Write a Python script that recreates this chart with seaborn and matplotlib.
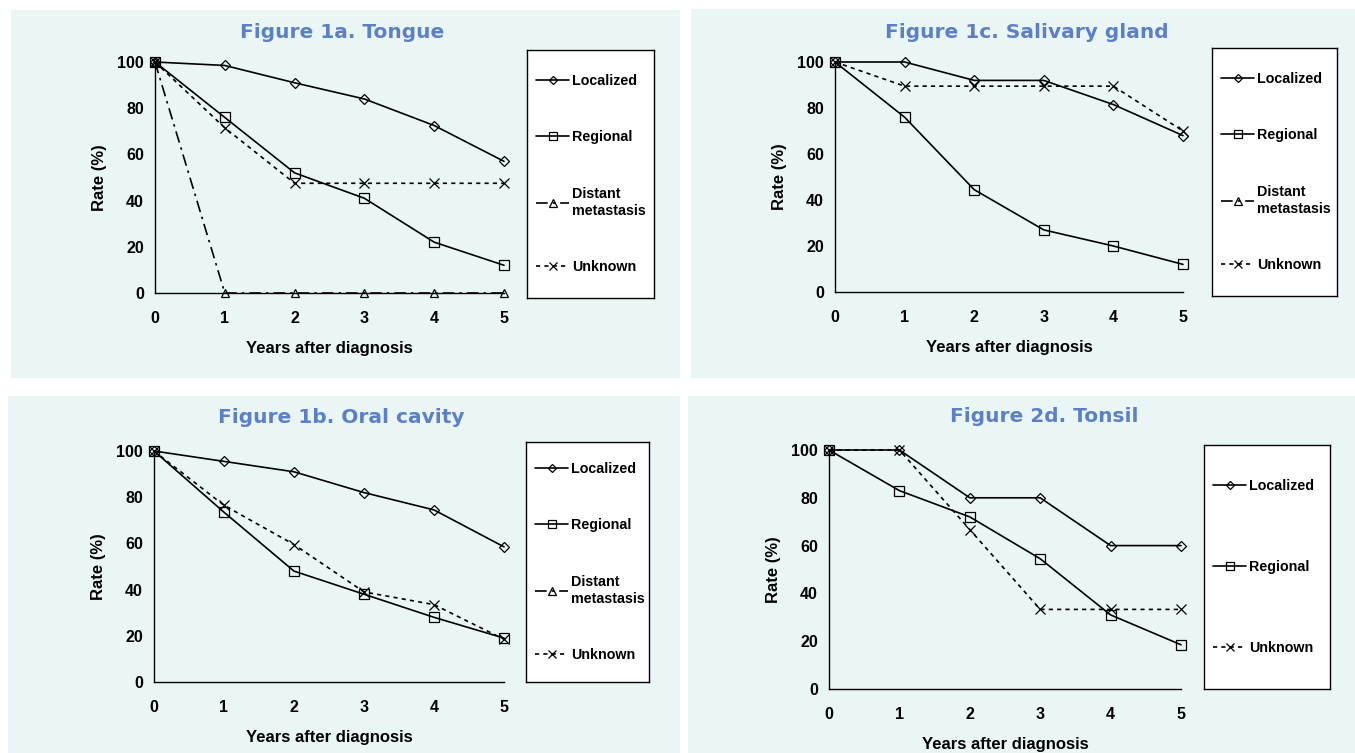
import matplotlib
matplotlib.use('Agg')
import matplotlib.pyplot as plt
import seaborn as sns
import numpy as np
from matplotlib.lines import Line2D
from matplotlib.patches import Rectangle

#####
##### Data
#####

years = [0, 1, 2, 3, 4, 5]

tongue_localized = [100, 98.5, 91, 84, 72.5, 57]
tongue_regional = [100, 76, 52, 41, 22, 12]
tongue_distant = [100, 0, 0, 0, 0, 0]
tongue_unknown = [100, 71.5, 47.5, 47.5, 47.5, 47.5]

salivary_localized = [100, 100, 92, 92, 81.5, 68]
salivary_regional = [100, 76, 44.5, 27, 20, 12]
salivary_unknown = [100, 89.5, 89.5, 89.5, 89.5, 70]

oral_localized = [100, 95.5, 91, 82, 74.5, 58.5]
oral_regional = [100, 73.5, 48, 38, 28, 19]
oral_unknown = [100, 76.5, 59.5, 39, 33.5, 18.5]

tonsil_localized = [100, 100, 80, 80, 60, 60]
tonsil_regional = [100, 83, 72, 54.5, 31, 18.5]
tonsil_unknown = [100, 100, 66.7, 33.3, 33.3, 33.3]

titles = ['Figure 1a. Tongue', 'Figure 1c. Salivary gland',
          'Figure 1b. Oral cavity', 'Figure 2d. Tonsil']

# series style per category
styles = {
    'Localized': dict(marker='D', markersize=5, linestyle='-'),
    'Regional': dict(marker='s', markersize=6.5, linestyle='-'),
    'Distant\nmetastasis': dict(marker='^', markersize=6, linestyle=(0, (7, 3, 1.5, 3))),
    'Unknown': dict(marker='x', markersize=7, linestyle=(0, (2.5, 2.5))),
}

W, H = 1355, 753
BG = '#eaf6f6'
TITLE_C = '#5b7fc9'

sns.set_style('white')
plt.rcParams['font.family'] = ['Liberation Sans', 'DejaVu Sans']
plt.rcParams['text.color'] = 'black'
plt.rcParams['axes.labelcolor'] = 'black'
plt.rcParams['xtick.color'] = 'black'
plt.rcParams['ytick.color'] = 'black'

fig = plt.figure(figsize=(W / 100, H / 100), dpi=100)
fig.patch.set_facecolor('white')


def frac(x0, y0, x1, y1):
    # pixel box (top-left origin) -> figure fraction rect
    return [x0 / W, 1 - y1 / H, (x1 - x0) / W, (y1 - y0) / H]


# panel: background box, axes box, legend box, title centre, series
panels = [
    dict(bg=(11, 10, 680, 378), ax=(155, 62, 504, 293), leg=(527, 50, 654, 298),
         tc=(342, 33), title=titles[0],
         series={'Localized': tongue_localized, 'Regional': tongue_regional,
                 'Distant\nmetastasis': tongue_distant, 'Unknown': tongue_unknown},
         legend=['Localized', 'Regional', 'Distant\nmetastasis', 'Unknown']),
    dict(bg=(691, 9, 1355, 378), ax=(835, 62, 1183, 292), leg=(1212, 48, 1337, 296),
         tc=(1027, 33), title=titles[1],
         series={'Localized': salivary_localized, 'Regional': salivary_regional,
                 'Unknown': salivary_unknown},
         legend=['Localized', 'Regional', 'Distant\nmetastasis', 'Unknown']),
    dict(bg=(8, 396, 680, 753), ax=(154, 451, 504, 682), leg=(526, 442, 649, 682),
         tc=(341, 418), title=titles[2],
         series={'Localized': oral_localized, 'Regional': oral_regional,
                 'Unknown': oral_unknown},
         legend=['Localized', 'Regional', 'Distant\nmetastasis', 'Unknown']),
    dict(bg=(688, 396, 1355, 753), ax=(829, 450, 1181, 689), leg=(1204, 445, 1330, 689),
         tc=(1044, 417), title=titles[3],
         series={'Localized': tonsil_localized, 'Regional': tonsil_regional,
                 'Unknown': tonsil_unknown},
         legend=['Localized', 'Regional', 'Unknown']),
]

for p in panels:
    x0, y0, x1, y1 = p['bg']
    fig.patches.append(Rectangle((x0 / W, 1 - y1 / H), (x1 - x0) / W, (y1 - y0) / H,
                                 transform=fig.transFigure, facecolor=BG,
                                 edgecolor='none', zorder=-10))

    ax = fig.add_axes(frac(*p['ax']))
    ax.set_facecolor('none')
    for name, vals in p['series'].items():
        st = styles[name]
        sns.lineplot(x=years, y=vals, ax=ax, color='black', linewidth=1.2,
                     marker=st['marker'], markersize=st['markersize'],
                     linestyle=st['linestyle'], markerfacecolor='none',
                     markeredgecolor='black', markeredgewidth=0.9)
    for ln in ax.lines:
        ln.set_clip_on(False)

    ax.set_xlim(0, 5)
    ax.set_ylim(0, 100)
    ax.set_xticks(years)
    ax.set_yticks([0, 20, 40, 60, 80, 100])
    for s in ['top', 'right']:
        ax.spines[s].set_visible(False)
    for s in ['left', 'bottom']:
        ax.spines[s].set_color('black')
        ax.spines[s].set_linewidth(1.0)
    ax.tick_params(axis='both', direction='out', length=4, width=1, color='black',
                   labelsize=11.5)
    ax.tick_params(axis='x', pad=9)
    ax.tick_params(axis='y', pad=4)
    for lab in ax.get_xticklabels() + ax.get_yticklabels():
        lab.set_fontweight('bold')
    ax.set_xlabel('Years after diagnosis', fontsize=12, fontweight='bold', labelpad=11)
    ax.set_ylabel('Rate (%)', fontsize=12, fontweight='bold', labelpad=7)

    fig.text(p['tc'][0] / W, 1 - p['tc'][1] / H, p['title'], ha='center', va='center',
             fontsize=14.5, fontweight='bold', color=TITLE_C, family='DejaVu Sans')

    # legend in its own framed box
    lax = fig.add_axes(frac(*p['leg']))
    lax.set_facecolor('white')
    lax.set_xticks([])
    lax.set_yticks([])
    for s in lax.spines.values():
        s.set_visible(True)
        s.set_color('black')
        s.set_linewidth(1.0)
    handles = []
    for name in p['legend']:
        st = styles[name]
        handles.append(Line2D([], [], color='black', linewidth=1.2, marker=st['marker'],
                              markersize=st['markersize'] * 0.85,
                              linestyle=st['linestyle'], markerfacecolor='none',
                              markeredgecolor='black', markeredgewidth=0.9))
    spacing = 3.0 if len(handles) == 4 else 4.7
    lax.legend(handles, p['legend'], loc='center left', frameon=False,
               prop=dict(weight='bold', size=10.3), handlelength=2.3, handletextpad=0.2,
               labelspacing=spacing, borderpad=0, borderaxespad=0.65)

fig.savefig('out.png', dpi=100, facecolor='white')
